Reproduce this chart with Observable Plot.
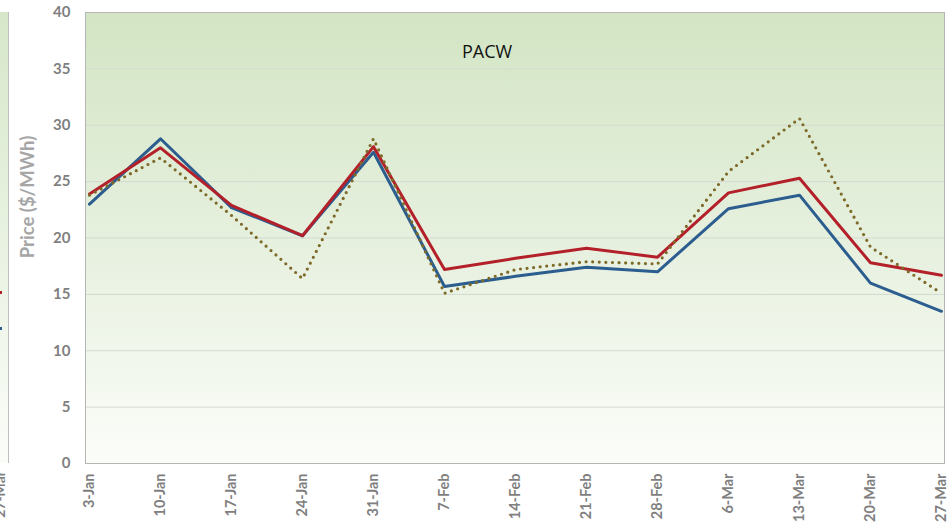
<!DOCTYPE html>
<html><head><meta charset="utf-8">
<script src="https://cdn.jsdelivr.net/npm/d3@7"></script>
<script src="https://cdn.jsdelivr.net/npm/@observablehq/plot@0.6"></script>
<style>
body{margin:0;background:#fff;}
#wrap{position:relative;width:952px;height:530px;overflow:hidden;font-family:Lato,"Open Sans",sans-serif;}
#frag{position:absolute;left:0;top:12px;width:8px;height:451px;background:linear-gradient(#d6e7c9,#fbfdf9);border-right:1px solid #bfbfbf;}
#frag .r{position:absolute;left:0;top:279px;width:2px;height:3px;background:#b3202a;}
#frag .b{position:absolute;left:0;top:315px;width:2px;height:3px;background:#2c5d8f;}
#fragtxt{position:absolute;left:0;top:463px;width:9px;height:67px;overflow:hidden;}
#fragtxt span{position:absolute;left:-9px;top:8px;transform-origin:top left;transform:rotate(-90deg) translate(-100%,0);font:bold 14px Lato,sans-serif;color:#7f7f7f;white-space:nowrap;}
#chart{position:absolute;left:0;top:0;}
</style></head>
<body><div id="wrap"><div id="frag"><div class="r"></div><div class="b"></div></div><div id="fragtxt"><span>27-Mar</span></div><div id="chart"></div></div>
<script>
const weeks = ["3-Jan","10-Jan","17-Jan","24-Jan","31-Jan","7-Feb","14-Feb","21-Feb","28-Feb","6-Mar","13-Mar","20-Mar","27-Mar"];
const blueSeries = [23.0, 28.8, 22.7, 20.2, 27.6, 15.7, 16.6, 17.4, 17.0, 22.6, 23.8, 16.0, 13.5];
const redSeries = [23.9, 28.0, 22.9, 20.2, 28.1, 17.2, 18.2, 19.1, 18.3, 24.0, 25.3, 17.8, 16.7];
const dottedSeries = [23.8, 27.1, 22.0, 16.4, 28.8, 15.1, 17.2, 17.9, 17.7, 25.9, 30.6, 19.2, 15.1];
const yTicks = [0,5,10,15,20,25,30,35,40];
const gridTicks = [5,10,15,20,25,30,35];
const chartTitle = "PACW";
const yLabel = "Price ($/MWh)";

const rows = (vals) => weeks.map((w, i) => ({week: w, value: vals[i]}));

function background(index, scales, values, dims) {
  const ns = "http://www.w3.org/2000/svg";
  const g = document.createElementNS(ns, "g");
  const w = dims.width - dims.marginLeft - dims.marginRight;
  const h = dims.height - dims.marginTop - dims.marginBottom;
  g.innerHTML = `<defs><linearGradient id="bgGrad" x1="0" y1="0" x2="0" y2="1">
    <stop offset="0" stop-color="#d3e5c4"/><stop offset="0.5" stop-color="#e6f0de"/><stop offset="1" stop-color="#fbfdf9"/>
  </linearGradient></defs><rect x="${dims.marginLeft}" y="${dims.marginTop}" width="${w}" height="${h}" fill="url(#bgGrad)"/>`;
  return g;
}

const chart = Plot.plot({
  width: 952,
  height: 530,
  marginLeft: 85,
  marginRight: 8,
  marginTop: 12,
  marginBottom: 67,
  style: {fontFamily: "Lato, 'Open Sans', sans-serif", fontSize: "14px", background: "transparent"},
  x: {type: "point", domain: weeks, padding: 0, insetLeft: 4, insetRight: 3},
  y: {domain: [0, 40]},
  marks: [
    background,
    Plot.gridY(gridTicks, {stroke: "#d4d9d0", strokeOpacity: 1, strokeWidth: 1}),
    Plot.line(rows(blueSeries), {x: "week", y: "value", stroke: "#2c5d8f", strokeWidth: 3}),
    Plot.line(rows(redSeries), {x: "week", y: "value", stroke: "#b3202a", strokeWidth: 3}),
    Plot.line(rows(dottedSeries), {x: "week", y: "value", stroke: "#7d6a28", strokeWidth: 3.2, strokeDasharray: "0 6.6", strokeLinecap: "round"}),
    Plot.frame({stroke: "#b5b5b5", strokeWidth: 1}),
    Plot.axisY(yTicks, {tickSize: 0, tickPadding: 15, fontSize: 15, fontWeight: "bold", fill: "#7f7f7f", label: null}),
    Plot.axisX({tickRotate: -90, tickSize: 0, tickPadding: 10, fontSize: 14.5, fontWeight: "bold", fill: "#7f7f7f", label: null}),
    Plot.text([yLabel], {frameAnchor: "left", textAnchor: "middle", dx: -57, dy: -41, rotate: -90, fontSize: 18.5, fontWeight: "bold", fill: "#a6a6a6"}),
    Plot.text([chartTitle], {frameAnchor: "top", dx: -28, dy: 33, fontSize: 18, fill: "#111", fontFamily: "'Open Sans', Lato, sans-serif"})
  ]
});
document.getElementById("chart").appendChild(chart);
</script>
</body></html>
